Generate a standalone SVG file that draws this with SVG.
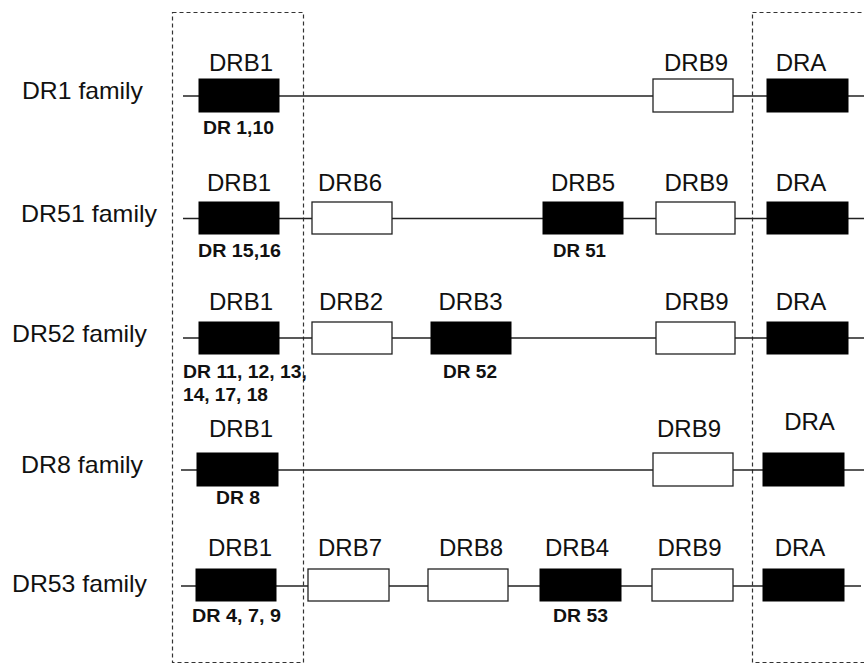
<svg xmlns="http://www.w3.org/2000/svg" width="864" height="664" viewBox="0 0 864 664">
<style>
.fam{font-family:"Liberation Sans",Arial,sans-serif;font-size:24px;fill:#111}
.gl{font-family:"Liberation Sans",Arial,sans-serif;font-size:24px;fill:#111;text-anchor:middle}
.al{font-family:"Liberation Sans",Arial,sans-serif;font-size:18px;font-weight:bold;fill:#111}
.ln{stroke:#222;stroke-width:1.3;fill:none}
.blk{fill:#000;stroke:#000;stroke-width:1}
.wht{fill:#fff;stroke:#222;stroke-width:1.3}
.dash{fill:none;stroke:#333;stroke-width:1.2;stroke-dasharray:4 3}
</style>
<rect width="864" height="664" fill="#fff"/>
<g id="regions">
<rect class="dash" x="172.5" y="12.5" width="131" height="650"/>
<rect class="dash" x="752.5" y="12.5" width="130" height="650"/>
</g>
<g id="connectors">
<line class="ln" x1="183" y1="96" x2="864" y2="96"/>
<line class="ln" x1="183" y1="218.5" x2="864" y2="218.5"/>
<line class="ln" x1="183" y1="338" x2="864" y2="338"/>
<line class="ln" x1="181" y1="470" x2="864" y2="470"/>
<line class="ln" x1="181" y1="586" x2="861" y2="586"/>
</g>
<g id="row-dr1">
<text class="fam" x="22" y="99" textLength="121" lengthAdjust="spacingAndGlyphs">DR1 family</text>
<g id="dr1-drb1"><rect class="blk" x="199" y="79" width="80" height="33"/><text class="gl" x="241" y="71">DRB1</text><text class="al" x="203" y="134" textLength="71" lengthAdjust="spacingAndGlyphs">DR 1,10</text></g>
<g id="dr1-drb9"><rect class="wht" x="653" y="79" width="80" height="33"/><text class="gl" x="696" y="71">DRB9</text></g>
<g id="dr1-dra"><rect class="blk" x="767" y="79" width="81" height="33"/><text class="gl" x="801" y="71">DRA</text></g>
</g>
<g id="row-dr51">
<text class="fam" x="21" y="222" textLength="136" lengthAdjust="spacingAndGlyphs">DR51 family</text>
<g id="dr51-drb1"><rect class="blk" x="199" y="202" width="80" height="32"/><text class="gl" x="239" y="191">DRB1</text><text class="al" x="198" y="257" textLength="83" lengthAdjust="spacingAndGlyphs">DR 15,16</text></g>
<g id="dr51-drb6"><rect class="wht" x="312" y="202" width="80" height="32"/><text class="gl" x="350" y="191">DRB6</text></g>
<g id="dr51-drb5"><rect class="blk" x="543" y="202" width="80" height="32"/><text class="gl" x="583" y="191">DRB5</text><text class="al" x="553" y="257" textLength="53" lengthAdjust="spacingAndGlyphs">DR 51</text></g>
<g id="dr51-drb9"><rect class="wht" x="656" y="202" width="79" height="32"/><text class="gl" x="696.5" y="191">DRB9</text></g>
<g id="dr51-dra"><rect class="blk" x="767" y="202" width="81" height="32"/><text class="gl" x="801" y="191">DRA</text></g>
</g>
<g id="row-dr52">
<text class="fam" x="12" y="342" textLength="135" lengthAdjust="spacingAndGlyphs">DR52 family</text>
<g id="dr52-drb1"><rect class="blk" x="199" y="322" width="80" height="32"/><text class="gl" x="241" y="310">DRB1</text><text class="al" x="183" y="378" textLength="124" lengthAdjust="spacingAndGlyphs">DR 11, 12, 13,</text><text class="al" x="183" y="401" textLength="85" lengthAdjust="spacingAndGlyphs">14, 17, 18</text></g>
<g id="dr52-drb2"><rect class="wht" x="312" y="322" width="80" height="32"/><text class="gl" x="351" y="310">DRB2</text></g>
<g id="dr52-drb3"><rect class="blk" x="431" y="322" width="80" height="32"/><text class="gl" x="470.5" y="310">DRB3</text><text class="al" x="443" y="378" textLength="54" lengthAdjust="spacingAndGlyphs">DR 52</text></g>
<g id="dr52-drb9"><rect class="wht" x="656" y="322" width="79" height="32"/><text class="gl" x="696.5" y="310">DRB9</text></g>
<g id="dr52-dra"><rect class="blk" x="767" y="322" width="81" height="32"/><text class="gl" x="801" y="310">DRA</text></g>
</g>
<g id="row-dr8">
<text class="fam" x="21" y="473" textLength="122" lengthAdjust="spacingAndGlyphs">DR8 family</text>
<g id="dr8-drb1"><rect class="blk" x="197" y="453" width="81" height="33"/><text class="gl" x="241" y="437">DRB1</text><text class="al" x="216" y="504" textLength="44" lengthAdjust="spacingAndGlyphs">DR 8</text></g>
<g id="dr8-drb9"><rect class="wht" x="653" y="453" width="80" height="33"/><text class="gl" x="689" y="437">DRB9</text></g>
<g id="dr8-dra"><rect class="blk" x="763" y="453" width="81" height="33"/><text class="gl" x="809.5" y="430">DRA</text></g>
</g>
<g id="row-dr53">
<text class="fam" x="12" y="592" textLength="135" lengthAdjust="spacingAndGlyphs">DR53 family</text>
<g id="dr53-drb1"><rect class="blk" x="196" y="569" width="80" height="32"/><text class="gl" x="240" y="556">DRB1</text><text class="al" x="192" y="622" textLength="89" lengthAdjust="spacingAndGlyphs">DR 4, 7, 9</text></g>
<g id="dr53-drb7"><rect class="wht" x="308" y="569" width="81" height="32"/><text class="gl" x="350" y="556">DRB7</text></g>
<g id="dr53-drb8"><rect class="wht" x="428" y="569" width="80" height="32"/><text class="gl" x="471" y="556">DRB8</text></g>
<g id="dr53-drb4"><rect class="blk" x="540" y="569" width="81" height="32"/><text class="gl" x="577" y="556">DRB4</text><text class="al" x="553" y="622" textLength="55" lengthAdjust="spacingAndGlyphs">DR 53</text></g>
<g id="dr53-drb9"><rect class="wht" x="652" y="569" width="81" height="32"/><text class="gl" x="689.5" y="556">DRB9</text></g>
<g id="dr53-dra"><rect class="blk" x="763" y="569" width="81" height="32"/><text class="gl" x="800" y="556">DRA</text></g>
</g>
</svg>
